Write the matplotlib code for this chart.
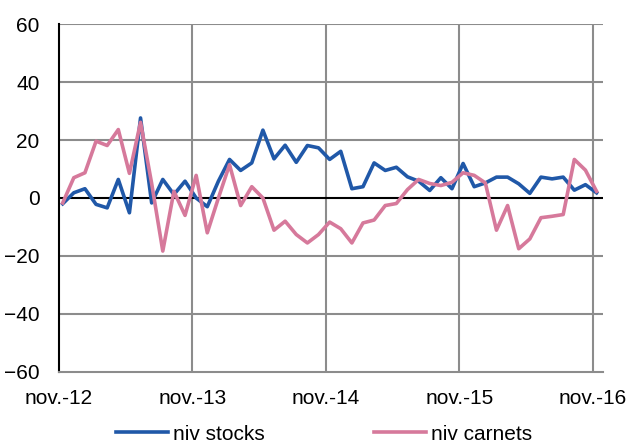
import matplotlib.pyplot as plt

# monthly values, nov. 2012 -> nov. 2016
niv_stocks = [-2, 1.8, 3.2, -2.2, -3.4, 6.4, -5.1, 27.6, -1.7, 6.4,
              1.2, 5.8, 0, -3, 5.8, 13.3, 9.5, 12.1, 23.4, 13.5,
              18.2, 12.3, 18.1, 17.3, 13.3, 16.1, 3.2, 3.9, 12.1, 9.5,
              10.6, 7.3, 5.8, 2.6, 7, 3.2, 11.9, 3.9, 5.2, 7.2,
              7.2, 4.9, 1.6, 7.2, 6.6, 7.2, 2.7, 4.6, 1.8]
niv_carnets = [-1.7, 7, 8.7, 19.6, 18.1, 23.6, 8.5, 26.1, 5, -18.3,
               2.3, -6, 7.8, -12, 0, 11.5, -2.6, 3.9, 0, -11.1,
               -8, -12.6, -15.5, -12.6, -8.3, -10.6, -15.5, -8.6, -7.6, -2.6,
               -1.9, 2.9, 6.4, 5, 4.3, 5.4, 8.7, 7.8, 5.2, -11.1,
               -2.6, -17.5, -14.1, -6.8, -6.3, -5.7, 13.3, 9.6, 2.3]
tick_labels = ["nov.-12", "nov.-13", "nov.-14", "nov.-15", "nov.-16"]

plt.rcParams['font.family'] = ['Liberation Sans', 'DejaVu Sans']

x = [i + 0.33 for i in range(len(niv_stocks))]

fig = plt.figure(figsize=(6.38, 4.43), dpi=100)
ax = fig.add_axes([0.0925, 0.1603, 0.8525, 0.7855])

ax.plot(x, niv_stocks, color="#2058a8", lw=2.6, label="niv stocks", zorder=3)
ax.plot(x, niv_carnets, color="#d6799b", lw=2.6, label="niv carnets", zorder=3)

ax.set_ylim(-60, 60)
ax.set_xlim(0, 48.9)
ax.set_yticks(range(-60, 61, 20))
ax.set_xticks([0, 12, 24, 36, 48])
ax.set_xticklabels(tick_labels)

# grille
for yv in range(-40, 61, 20):
    if yv != 0:
        ax.axhline(yv, color="#8c8c8c", lw=1.5, zorder=1)
for xv in [12, 24, 36, 48]:
    ax.axvline(xv, color="#8c8c8c", lw=1.5, zorder=1)
ax.axhline(0, color="black", lw=1.5, zorder=2)

for s in ["top", "right"]:
    ax.spines[s].set_visible(False)
ax.spines["left"].set_color("black")
ax.spines["left"].set_linewidth(1.5)
ax.spines["bottom"].set_color("#8c8c8c")
ax.spines["bottom"].set_linewidth(1.5)

ax.tick_params(axis="y", length=0, pad=14, labelsize=15)
ax.tick_params(axis="x", length=0, pad=12, labelsize=15)

fig.legend(loc="center", bbox_to_anchor=(0.508, 0.02), ncol=2, frameon=False,
           fontsize=15, handlelength=2.5, handletextpad=0.25, columnspacing=5.2)

fig.savefig("out.png", dpi=100)
